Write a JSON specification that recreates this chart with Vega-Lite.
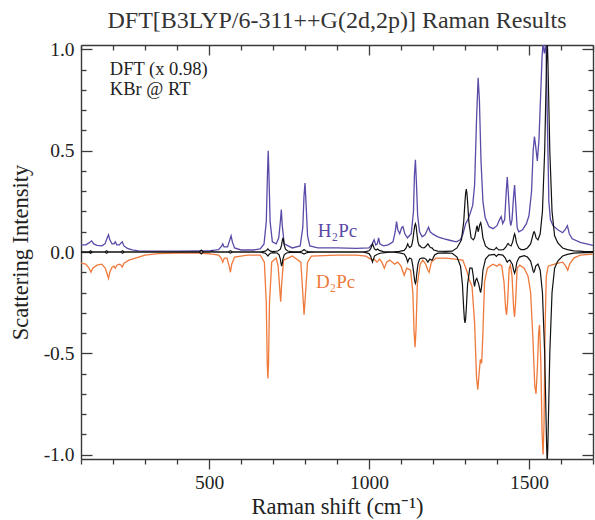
{
  "$schema": "https://vega.github.io/schema/vega-lite/v6.json",
  "width": 512,
  "height": 414,
  "autosize": "none",
  "padding": {"left": 81, "top": 45, "right": 2, "bottom": 61},
  "background": "white",
  "title": {"text": "DFT[B3LYP/6-311++G(2d,2p)] Raman Results", "font": "Liberation Serif", "fontSize": 24, "fontWeight": "normal", "color": "#333333", "offset": 6, "anchor": "middle"},
  "config": {
    "view": {"stroke": null},
    "axis": {"grid": false, "minExtent": 0, "domainColor": "#3a3a3a", "domainWidth": 1.4, "tickColor": "#3a3a3a", "tickWidth": 1.3, "labelFont": "Liberation Serif", "labelFontSize": 19.5, "labelColor": "#222222", "titleFont": "Liberation Serif", "titleFontSize": 22.5, "titleFontWeight": "normal", "titleColor": "#222222", "labelFlush": false, "labelOverlap": false}
  },
  "datasets": {
    "h2pc": [
      {"x":100,"y":0.035},{"x":115,"y":0.035},{"x":125,"y":0.045},{"x":133,"y":0.055},{"x":140,"y":0.04},{"x":150,"y":0.033},{"x":165,"y":0.03},{"x":175,"y":0.04},{"x":182,"y":0.07},{"x":186,"y":0.085},{"x":190,"y":0.06},{"x":197,"y":0.04},{"x":203,"y":0.04},{"x":207,"y":0.05},{"x":212,"y":0.035},{"x":220,"y":0.035},{"x":225,"y":0.045},{"x":229,"y":0.05},{"x":234,"y":0.03},{"x":245,"y":0.018},{"x":260,"y":0.01},{"x":280,"y":0.006},{"x":320,"y":0.004},{"x":400,"y":0.004},{"x":470,"y":0.005},{"x":500,"y":0.006},{"x":530,"y":0.012},{"x":540,"y":0.03},{"x":543,"y":0.04},{"x":547,"y":0.025},{"x":558,"y":0.025},{"x":565,"y":0.06},{"x":569,"y":0.08},{"x":573,"y":0.05},{"x":580,"y":0.02},{"x":600,"y":0.01},{"x":640,"y":0.01},{"x":660,"y":0.015},{"x":672,"y":0.04},{"x":679,"y":0.15},{"x":683,"y":0.4},{"x":685,"y":0.5},{"x":687,"y":0.4},{"x":691,"y":0.15},{"x":698,"y":0.05},{"x":710,"y":0.04},{"x":718,"y":0.07},{"x":723,"y":0.15},{"x":726,"y":0.21},{"x":729,"y":0.13},{"x":735,"y":0.04},{"x":760,"y":0.02},{"x":785,"y":0.03},{"x":793,"y":0.12},{"x":797,"y":0.28},{"x":800,"y":0.34},{"x":803,"y":0.25},{"x":808,"y":0.08},{"x":815,"y":0.03},{"x":840,"y":0.02},{"x":900,"y":0.02},{"x":960,"y":0.018},{"x":1000,"y":0.02},{"x":1010,"y":0.04},{"x":1016,"y":0.06},{"x":1021,"y":0.035},{"x":1026,"y":0.04},{"x":1030,"y":0.07},{"x":1034,"y":0.04},{"x":1045,"y":0.03},{"x":1060,"y":0.035},{"x":1075,"y":0.05},{"x":1082,"y":0.1},{"x":1086,"y":0.15},{"x":1090,"y":0.11},{"x":1096,"y":0.09},{"x":1102,"y":0.12},{"x":1106,"y":0.125},{"x":1112,"y":0.09},{"x":1120,"y":0.07},{"x":1132,"y":0.09},{"x":1139,"y":0.2},{"x":1142,"y":0.38},{"x":1145,"y":0.455},{"x":1148,"y":0.35},{"x":1152,"y":0.18},{"x":1158,"y":0.1},{"x":1166,"y":0.075},{"x":1175,"y":0.085},{"x":1181,"y":0.105},{"x":1186,"y":0.122},{"x":1191,"y":0.1},{"x":1200,"y":0.088},{"x":1215,"y":0.075},{"x":1235,"y":0.065},{"x":1252,"y":0.058},{"x":1273,"y":0.05},{"x":1285,"y":0.06},{"x":1293,"y":0.085},{"x":1302,"y":0.14},{"x":1309,"y":0.16},{"x":1316,"y":0.19},{"x":1324,"y":0.23},{"x":1330,"y":0.33},{"x":1336,"y":0.65},{"x":1341,"y":0.86},{"x":1345,"y":0.75},{"x":1350,"y":0.45},{"x":1356,"y":0.25},{"x":1363,"y":0.17},{"x":1375,"y":0.125},{"x":1388,"y":0.115},{"x":1400,"y":0.13},{"x":1408,"y":0.16},{"x":1413,"y":0.175},{"x":1418,"y":0.14},{"x":1424,"y":0.16},{"x":1429,"y":0.3},{"x":1432,"y":0.37},{"x":1435,"y":0.3},{"x":1440,"y":0.16},{"x":1443,"y":0.13},{"x":1447,"y":0.16},{"x":1452,"y":0.28},{"x":1455,"y":0.33},{"x":1458,"y":0.25},{"x":1463,"y":0.12},{"x":1468,"y":0.1},{"x":1480,"y":0.11},{"x":1492,"y":0.14},{"x":1500,"y":0.18},{"x":1508,"y":0.3},{"x":1513,"y":0.5},{"x":1517,"y":0.57},{"x":1521,"y":0.52},{"x":1526,"y":0.45},{"x":1531,"y":0.55},{"x":1537,"y":0.8},{"x":1541,"y":0.97},{"x":1544,"y":1.03},{"x":1548,"y":0.98},{"x":1553,"y":1.03},{"x":1558,"y":0.6},{"x":1562,"y":0.25},{"x":1567,"y":0.16},{"x":1575,"y":0.13},{"x":1590,"y":0.11},{"x":1605,"y":0.095},{"x":1613,"y":0.11},{"x":1620,"y":0.13},{"x":1626,"y":0.09},{"x":1635,"y":0.065},{"x":1660,"y":0.048},{"x":1700,"y":0.033}
    ],
    "d2pc": [
      {"x":100,"y":-0.055},{"x":115,"y":-0.06},{"x":125,"y":-0.08},{"x":131,"y":-0.1},{"x":137,"y":-0.08},{"x":150,"y":-0.065},{"x":165,"y":-0.06},{"x":176,"y":-0.08},{"x":182,"y":-0.11},{"x":186,"y":-0.13},{"x":190,"y":-0.1},{"x":197,"y":-0.075},{"x":203,"y":-0.07},{"x":207,"y":-0.08},{"x":212,"y":-0.065},{"x":220,"y":-0.06},{"x":225,"y":-0.065},{"x":229,"y":-0.075},{"x":234,"y":-0.055},{"x":250,"y":-0.04},{"x":270,"y":-0.03},{"x":300,"y":-0.015},{"x":340,"y":-0.008},{"x":400,"y":-0.005},{"x":470,"y":-0.005},{"x":510,"y":-0.01},{"x":530,"y":-0.015},{"x":538,"y":-0.03},{"x":543,"y":-0.05},{"x":548,"y":-0.03},{"x":556,"y":-0.03},{"x":563,"y":-0.07},{"x":567,"y":-0.1},{"x":571,"y":-0.06},{"x":580,"y":-0.025},{"x":620,"y":-0.015},{"x":660,"y":-0.015},{"x":673,"y":-0.05},{"x":679,"y":-0.25},{"x":682,"y":-0.55},{"x":684,"y":-0.625},{"x":686,"y":-0.55},{"x":689,"y":-0.25},{"x":696,"y":-0.05},{"x":710,"y":-0.03},{"x":716,"y":-0.07},{"x":721,"y":-0.18},{"x":724,"y":-0.245},{"x":727,"y":-0.16},{"x":733,"y":-0.04},{"x":760,"y":-0.02},{"x":787,"y":-0.05},{"x":793,"y":-0.2},{"x":797,"y":-0.31},{"x":801,"y":-0.22},{"x":808,"y":-0.05},{"x":820,"y":-0.02},{"x":900,"y":-0.015},{"x":960,"y":-0.015},{"x":990,"y":-0.02},{"x":1000,"y":-0.03},{"x":1010,"y":-0.04},{"x":1016,"y":-0.035},{"x":1025,"y":-0.05},{"x":1033,"y":-0.035},{"x":1040,"y":-0.05},{"x":1048,"y":-0.08},{"x":1055,"y":-0.05},{"x":1065,"y":-0.04},{"x":1080,"y":-0.06},{"x":1090,"y":-0.05},{"x":1100,"y":-0.07},{"x":1110,"y":-0.115},{"x":1118,"y":-0.08},{"x":1130,"y":-0.09},{"x":1137,"y":-0.2},{"x":1141,"y":-0.4},{"x":1144,"y":-0.47},{"x":1147,"y":-0.38},{"x":1151,"y":-0.16},{"x":1160,"y":-0.06},{"x":1168,"y":-0.04},{"x":1177,"y":-0.06},{"x":1184,"y":-0.09},{"x":1188,"y":-0.1},{"x":1195,"y":-0.05},{"x":1210,"y":-0.03},{"x":1240,"y":-0.03},{"x":1270,"y":-0.035},{"x":1293,"y":-0.04},{"x":1305,"y":-0.09},{"x":1314,"y":-0.14},{"x":1322,"y":-0.17},{"x":1330,"y":-0.35},{"x":1336,"y":-0.62},{"x":1340,"y":-0.68},{"x":1344,"y":-0.6},{"x":1348,"y":-0.53},{"x":1352,"y":-0.55},{"x":1356,"y":-0.4},{"x":1361,"y":-0.15},{"x":1370,"y":-0.08},{"x":1387,"y":-0.06},{"x":1400,"y":-0.07},{"x":1408,"y":-0.06},{"x":1415,"y":-0.07},{"x":1422,"y":-0.15},{"x":1427,"y":-0.28},{"x":1430,"y":-0.31},{"x":1433,"y":-0.25},{"x":1438,"y":-0.08},{"x":1442,"y":-0.065},{"x":1447,"y":-0.12},{"x":1452,"y":-0.28},{"x":1455,"y":-0.32},{"x":1458,"y":-0.25},{"x":1463,"y":-0.08},{"x":1471,"y":-0.065},{"x":1485,"y":-0.08},{"x":1497,"y":-0.12},{"x":1505,"y":-0.2},{"x":1512,"y":-0.42},{"x":1518,"y":-0.66},{"x":1522,"y":-0.7},{"x":1526,"y":-0.58},{"x":1530,"y":-0.4},{"x":1533,"y":-0.36},{"x":1537,"y":-0.55},{"x":1541,"y":-0.9},{"x":1544,"y":-1.0},{"x":1547,"y":-0.85},{"x":1550,"y":-0.4},{"x":1554,"y":-0.12},{"x":1560,"y":-0.07},{"x":1570,"y":-0.065},{"x":1590,"y":-0.055},{"x":1605,"y":-0.05},{"x":1615,"y":-0.07},{"x":1621,"y":-0.09},{"x":1627,"y":-0.06},{"x":1640,"y":-0.03},{"x":1660,"y":-0.015},{"x":1700,"y":-0.01}
    ],
    "dftH": [
      {"x":100,"y":0},{"x":125,"y":0},{"x":130,"y":0.006},{"x":135,"y":0},{"x":175,"y":0},{"x":180,"y":0.006},{"x":185,"y":0},{"x":225,"y":0},{"x":230,"y":0.006},{"x":235,"y":0},{"x":470,"y":0},{"x":476,"y":0.009},{"x":482,"y":0},{"x":505,"y":0},{"x":510,"y":0.005},{"x":515,"y":0},{"x":560,"y":0},{"x":567,"y":0.006},{"x":574,"y":0},{"x":660,"y":0},{"x":668,"y":0.002},{"x":676,"y":0.004},{"x":680,"y":0.008},{"x":684,"y":0.015},{"x":688,"y":0.008},{"x":692,"y":0.004},{"x":700,"y":0.002},{"x":715,"y":0.005},{"x":723,"y":0.014},{"x":727,"y":0.035},{"x":729,"y":0.056},{"x":731,"y":0.07},{"x":733,"y":0.056},{"x":735,"y":0.035},{"x":739,"y":0.014},{"x":746,"y":0.005},{"x":760,"y":0.001},{"x":785,"y":0.002},{"x":791,"y":0.005},{"x":797,"y":0.012},{"x":803,"y":0.005},{"x":810,"y":0.002},{"x":830,"y":0},{"x":980,"y":0},{"x":990,"y":0.002},{"x":1000,"y":0.006},{"x":1005,"y":0.015},{"x":1009,"y":0.032},{"x":1011,"y":0.04},{"x":1013,"y":0.032},{"x":1017,"y":0.015},{"x":1022,"y":0.01},{"x":1027,"y":0.015},{"x":1032,"y":0.008},{"x":1045,"y":0.002},{"x":1070,"y":0},{"x":1095,"y":0.003},{"x":1110,"y":0.008},{"x":1116,"y":0.02},{"x":1119,"y":0.032},{"x":1121,"y":0.04},{"x":1123,"y":0.032},{"x":1127,"y":0.022},{"x":1133,"y":0.03},{"x":1137,"y":0.06},{"x":1141,"y":0.11},{"x":1143,"y":0.13},{"x":1145,"y":0.14},{"x":1147,"y":0.13},{"x":1149,"y":0.1},{"x":1153,"y":0.05},{"x":1157,"y":0.03},{"x":1160,"y":0.03},{"x":1164,"y":0.022},{"x":1172,"y":0.02},{"x":1178,"y":0.028},{"x":1182,"y":0.036},{"x":1184,"y":0.04},{"x":1186,"y":0.036},{"x":1190,"y":0.025},{"x":1195,"y":0.02},{"x":1197,"y":0.02},{"x":1202,"y":0.01},{"x":1215,"y":0.004},{"x":1240,"y":0.003},{"x":1260,"y":0.004},{"x":1275,"y":0.02},{"x":1289,"y":0.06},{"x":1296,"y":0.15},{"x":1300,"y":0.25},{"x":1302,"y":0.29},{"x":1304,"y":0.31},{"x":1306,"y":0.29},{"x":1308,"y":0.25},{"x":1312,"y":0.15},{"x":1319,"y":0.07},{"x":1326,"y":0.06},{"x":1330,"y":0.07},{"x":1334,"y":0.1},{"x":1336,"y":0.12},{"x":1338,"y":0.13},{"x":1341,"y":0.1},{"x":1343,"y":0.11},{"x":1346,"y":0.135},{"x":1349,"y":0.145},{"x":1352,"y":0.12},{"x":1356,"y":0.07},{"x":1364,"y":0.03},{"x":1375,"y":0.015},{"x":1390,"y":0.01},{"x":1396,"y":0.018},{"x":1398,"y":0.022},{"x":1400,"y":0.018},{"x":1406,"y":0.01},{"x":1420,"y":0.012},{"x":1428,"y":0.025},{"x":1433,"y":0.04},{"x":1435,"y":0.042},{"x":1438,"y":0.035},{"x":1444,"y":0.03},{"x":1449,"y":0.05},{"x":1453,"y":0.08},{"x":1455,"y":0.09},{"x":1457,"y":0.08},{"x":1461,"y":0.045},{"x":1468,"y":0.02},{"x":1475,"y":0.012},{"x":1485,"y":0.012},{"x":1495,"y":0.02},{"x":1505,"y":0.04},{"x":1510,"y":0.07},{"x":1514,"y":0.095},{"x":1516,"y":0.1},{"x":1518,"y":0.095},{"x":1522,"y":0.07},{"x":1528,"y":0.06},{"x":1535,"y":0.09},{"x":1542,"y":0.2},{"x":1549,"y":0.5},{"x":1553,"y":0.8},{"x":1555,"y":0.95},{"x":1557,"y":1.05},{"x":1559,"y":0.95},{"x":1561,"y":0.8},{"x":1565,"y":0.5},{"x":1572,"y":0.2},{"x":1580,"y":0.08},{"x":1590,"y":0.045},{"x":1605,"y":0.02},{"x":1620,"y":0.012},{"x":1640,"y":0.006},{"x":1670,"y":0.003},{"x":1700,"y":0.002}
    ],
    "dftD": [
      {"x":100,"y":0},{"x":125,"y":0},{"x":130,"y":-0.006},{"x":135,"y":0},{"x":175,"y":0},{"x":180,"y":-0.006},{"x":185,"y":0},{"x":225,"y":0},{"x":230,"y":-0.006},{"x":235,"y":0},{"x":470,"y":0},{"x":476,"y":-0.009},{"x":482,"y":0},{"x":560,"y":0},{"x":567,"y":-0.005},{"x":574,"y":0},{"x":660,"y":0},{"x":668,"y":-0.003},{"x":676,"y":-0.006},{"x":680,"y":-0.012},{"x":684,"y":-0.02},{"x":688,"y":-0.012},{"x":692,"y":-0.006},{"x":700,"y":-0.003},{"x":713,"y":-0.005},{"x":719,"y":-0.014},{"x":723,"y":-0.035},{"x":725,"y":-0.056},{"x":727,"y":-0.07},{"x":729,"y":-0.056},{"x":731,"y":-0.035},{"x":735,"y":-0.014},{"x":742,"y":-0.005},{"x":760,"y":-0.001},{"x":785,"y":-0.002},{"x":791,"y":-0.005},{"x":797,"y":-0.01},{"x":803,"y":-0.005},{"x":810,"y":-0.002},{"x":830,"y":0},{"x":980,"y":0},{"x":990,"y":-0.003},{"x":1000,"y":-0.008},{"x":1005,"y":-0.02},{"x":1009,"y":-0.04},{"x":1011,"y":-0.05},{"x":1013,"y":-0.04},{"x":1017,"y":-0.02},{"x":1025,"y":-0.012},{"x":1035,"y":-0.006},{"x":1050,"y":-0.003},{"x":1070,"y":0},{"x":1095,"y":-0.004},{"x":1110,"y":-0.01},{"x":1116,"y":-0.025},{"x":1119,"y":-0.04},{"x":1121,"y":-0.05},{"x":1123,"y":-0.04},{"x":1127,"y":-0.03},{"x":1133,"y":-0.035},{"x":1137,"y":-0.07},{"x":1141,"y":-0.12},{"x":1143,"y":-0.145},{"x":1145,"y":-0.155},{"x":1147,"y":-0.145},{"x":1149,"y":-0.11},{"x":1153,"y":-0.06},{"x":1158,"y":-0.035},{"x":1164,"y":-0.03},{"x":1172,"y":-0.03},{"x":1178,"y":-0.035},{"x":1182,"y":-0.045},{"x":1184,"y":-0.05},{"x":1186,"y":-0.045},{"x":1190,"y":-0.035},{"x":1195,"y":-0.04},{"x":1197,"y":-0.04},{"x":1199,"y":-0.035},{"x":1205,"y":-0.015},{"x":1215,"y":-0.006},{"x":1240,"y":-0.004},{"x":1260,"y":-0.006},{"x":1275,"y":-0.025},{"x":1286,"y":-0.07},{"x":1292,"y":-0.16},{"x":1296,"y":-0.28},{"x":1298,"y":-0.33},{"x":1300,"y":-0.35},{"x":1302,"y":-0.33},{"x":1304,"y":-0.28},{"x":1308,"y":-0.16},{"x":1315,"y":-0.08},{"x":1322,"y":-0.08},{"x":1326,"y":-0.12},{"x":1328,"y":-0.155},{"x":1330,"y":-0.17},{"x":1333,"y":-0.14},{"x":1337,"y":-0.13},{"x":1343,"y":-0.16},{"x":1347,"y":-0.19},{"x":1349,"y":-0.2},{"x":1352,"y":-0.17},{"x":1356,"y":-0.09},{"x":1364,"y":-0.035},{"x":1375,"y":-0.015},{"x":1392,"y":-0.012},{"x":1398,"y":-0.022},{"x":1404,"y":-0.012},{"x":1418,"y":-0.015},{"x":1426,"y":-0.03},{"x":1430,"y":-0.045},{"x":1432,"y":-0.05},{"x":1434,"y":-0.045},{"x":1440,"y":-0.04},{"x":1448,"y":-0.06},{"x":1452,"y":-0.09},{"x":1455,"y":-0.105},{"x":1458,"y":-0.09},{"x":1462,"y":-0.05},{"x":1470,"y":-0.025},{"x":1485,"y":-0.018},{"x":1495,"y":-0.025},{"x":1505,"y":-0.045},{"x":1510,"y":-0.075},{"x":1513,"y":-0.095},{"x":1515,"y":-0.1},{"x":1517,"y":-0.095},{"x":1521,"y":-0.07},{"x":1528,"y":-0.06},{"x":1535,"y":-0.09},{"x":1542,"y":-0.2},{"x":1549,"y":-0.5},{"x":1553,"y":-0.8},{"x":1555,"y":-0.95},{"x":1557,"y":-1.05},{"x":1559,"y":-0.95},{"x":1561,"y":-0.8},{"x":1565,"y":-0.5},{"x":1572,"y":-0.2},{"x":1580,"y":-0.08},{"x":1590,"y":-0.045},{"x":1605,"y":-0.02},{"x":1620,"y":-0.012},{"x":1640,"y":-0.006},{"x":1670,"y":-0.003},{"x":1700,"y":-0.002}
    ],
    "notes": [
      {"label":"DFT (x 0.98)","x":190,"y":0.874},
      {"label":"KBr @ RT","x":190,"y":0.775}
    ],
    "hlab": [{"label":"H₂Pc","x":840,"y":0.074}],
    "dlab": [{"label":"D₂Pc","x":834,"y":-0.178}]
  },
  "resolve": {"axis": {"x": "independent", "y": "independent"}},
  "layer": [
    {
      "data": {"name": "h2pc"},
      "mark": {"type": "line", "color": "#5b4aa8", "strokeWidth": 1.3, "clip": true},
      "encoding": {
        "x": {"field": "x", "type": "quantitative", "scale": {"domain": [100, 1700], "nice": false, "zero": false},
              "axis": {"orient": "bottom", "values": [500, 1000, 1500], "format": "d", "tickSize": 10, "labelPadding": 4, "title": "Raman shift (cm⁻¹)", "titleBaseline": "alphabetic", "titleY": 54}},
        "y": {"field": "y", "type": "quantitative", "scale": {"domain": [-1.022, 1.022], "nice": false, "zero": false},
              "axis": {"orient": "left", "values": [-1, -0.5, 0, 0.5, 1], "tickSize": -11, "labelPadding": 18, "labelExpr": "datum.value < 0 ? '-' + format(-datum.value, '.1f') : format(datum.value, '.1f')", "title": "Scattering Intensity", "titleX": -54, "titleBaseline": "alphabetic"}}
      }
    },
    {
      "data": {"name": "d2pc"},
      "mark": {"type": "line", "color": "#ef7a3c", "strokeWidth": 1.3, "clip": true},
      "encoding": {
        "x": {"field": "x", "type": "quantitative", "scale": {"domain": [100, 1700], "nice": false, "zero": false},
              "axis": {"orient": "bottom", "values": [100, 200, 300, 400, 600, 700, 800, 900, 1100, 1200, 1300, 1400, 1600, 1700], "tickSize": 5, "labels": false, "title": null, "domain": false}},
        "y": {"field": "y", "type": "quantitative", "scale": {"domain": [-1.022, 1.022], "nice": false, "zero": false},
              "axis": {"orient": "left", "values": [-0.9, -0.8, -0.7, -0.6, -0.4, -0.3, -0.2, -0.1, 0.1, 0.2, 0.3, 0.4, 0.6, 0.7, 0.8, 0.9], "tickSize": -5, "labels": false, "title": null, "domain": false}}
      }
    },
    {
      "data": {"name": "dftH"},
      "mark": {"type": "line", "color": "#111111", "strokeWidth": 1.2, "clip": true},
      "encoding": {
        "x": {"field": "x", "type": "quantitative", "scale": {"domain": [100, 1700], "nice": false, "zero": false},
              "axis": {"orient": "top", "values": [500, 1000, 1500], "tickSize": -10, "labels": false, "title": null}},
        "y": {"field": "y", "type": "quantitative", "scale": {"domain": [-1.022, 1.022], "nice": false, "zero": false},
              "axis": {"orient": "right", "values": [-1, -0.5, 0, 0.5, 1], "tickSize": -11, "labels": false, "title": null}}
      }
    },
    {
      "data": {"name": "dftD"},
      "mark": {"type": "line", "color": "#111111", "strokeWidth": 1.2, "clip": true},
      "encoding": {
        "x": {"field": "x", "type": "quantitative", "scale": {"domain": [100, 1700], "nice": false, "zero": false},
              "axis": {"orient": "top", "values": [100, 200, 300, 400, 600, 700, 800, 900, 1100, 1200, 1300, 1400, 1600, 1700], "tickSize": -5, "labels": false, "title": null, "domain": false}},
        "y": {"field": "y", "type": "quantitative", "scale": {"domain": [-1.022, 1.022], "nice": false, "zero": false},
              "axis": {"orient": "right", "values": [-0.9, -0.8, -0.7, -0.6, -0.4, -0.3, -0.2, -0.1, 0.1, 0.2, 0.3, 0.4, 0.6, 0.7, 0.8, 0.9], "tickSize": -5, "labels": false, "title": null, "domain": false}}
      }
    },
    {
      "data": {"name": "notes"},
      "mark": {"type": "text", "align": "left", "baseline": "alphabetic", "font": "Liberation Serif", "fontSize": 18.5, "color": "#222222"},
      "encoding": {
        "x": {"field": "x", "type": "quantitative", "scale": {"domain": [100, 1700], "nice": false, "zero": false}, "axis": null},
        "y": {"field": "y", "type": "quantitative", "scale": {"domain": [-1.022, 1.022], "nice": false, "zero": false}, "axis": null},
        "text": {"field": "label"}
      }
    },
    {
      "data": {"name": "hlab"},
      "mark": {"type": "text", "align": "left", "baseline": "alphabetic", "font": "Liberation Serif", "fontSize": 19, "color": "#5b4aa8"},
      "encoding": {
        "x": {"field": "x", "type": "quantitative", "scale": {"domain": [100, 1700], "nice": false, "zero": false}, "axis": null},
        "y": {"field": "y", "type": "quantitative", "scale": {"domain": [-1.022, 1.022], "nice": false, "zero": false}, "axis": null},
        "text": {"field": "label"}
      }
    },
    {
      "data": {"name": "dlab"},
      "mark": {"type": "text", "align": "left", "baseline": "alphabetic", "font": "Liberation Serif", "fontSize": 19, "color": "#ef7a3c"},
      "encoding": {
        "x": {"field": "x", "type": "quantitative", "scale": {"domain": [100, 1700], "nice": false, "zero": false}, "axis": null},
        "y": {"field": "y", "type": "quantitative", "scale": {"domain": [-1.022, 1.022], "nice": false, "zero": false}, "axis": null},
        "text": {"field": "label"}
      }
    }
  ]
}
